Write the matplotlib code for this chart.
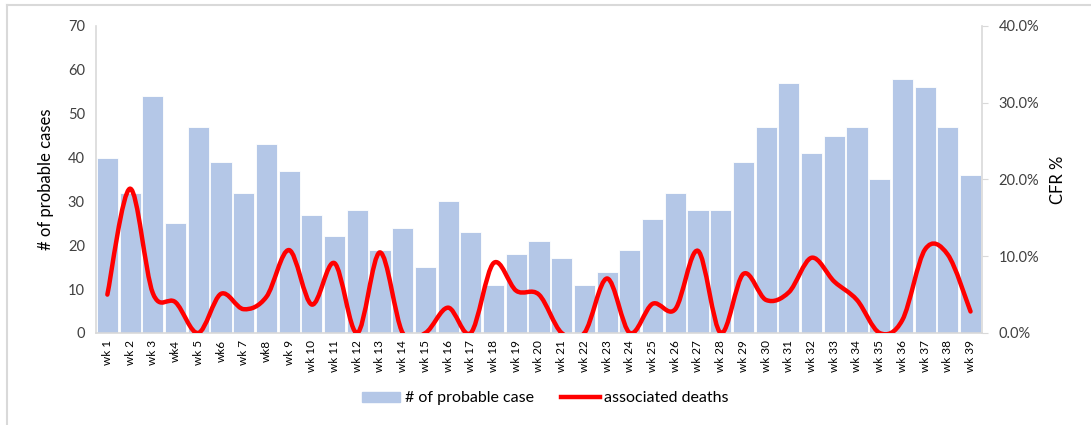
import matplotlib.pyplot as plt
from matplotlib.path import Path
from matplotlib.patches import PathPatch
from matplotlib.lines import Line2D
from matplotlib.ticker import PercentFormatter

plt.rcParams['font.family'] = ['Lato', 'DejaVu Sans']

weeks = ["wk 1", "wk 2", "wk 3", "wk4", "wk 5", "wk6", "wk 7", "wk8", "wk 9", "wk 10",
         "wk 11", "wk 12", "wk 13", "wk 14", "wk 15", "wk 16", "wk 17", "wk 18", "wk 19", "wk 20",
         "wk 21", "wk 22", "wk 23", "wk 24", "wk 25", "wk 26", "wk 27", "wk 28", "wk 29", "wk 30",
         "wk 31", "wk 32", "wk 33", "wk 34", "wk 35", "wk 36", "wk 37", "wk 38", "wk 39"]
cases = [40, 32, 54, 25, 47, 39, 32, 43, 37, 27,
         22, 28, 19, 24, 15, 30, 23, 11, 18, 21,
         17, 11, 14, 19, 26, 32, 28, 28, 39, 47,
         57, 41, 45, 47, 35, 58, 56, 47, 36]
cfr = [5.0, 18.8, 5.2, 4.0, 0.0, 5.1, 3.1, 4.7, 10.8, 3.7,
       9.1, 0.0, 10.5, 0.0, 0.0, 3.3, 0.0, 9.1, 5.5, 5.0,
       0.0, 0.0, 7.1, 0.0, 3.8, 3.1, 10.7, 0.0, 7.7, 4.3,
       5.3, 9.8, 6.7, 4.3, 0.0, 1.7, 10.9, 10.2, 2.8]

bar_color = "#B4C7E7"
grid_gray = "#D9D9D9"
text_col = "#404040"

fig = plt.figure(figsize=(10.91, 4.25), dpi=100)
ax = fig.add_axes([0.088, 0.2165, 0.812, 0.7225])
x = list(range(len(weeks)))
ax.bar(x, cases, width=0.93, color=bar_color, edgecolor="white", linewidth=0.6, zorder=2)
ax.set_xlim(-0.5, len(weeks) - 0.5)
ax.set_ylim(0, 70)
ax.set_yticks(range(0, 71, 10))
ax.set_xticks(x)
ax.set_xticklabels(weeks, rotation=90, fontsize=8.5, color="black")
ax.tick_params(axis="x", length=0, pad=5)
ax.tick_params(axis="y", length=0, labelsize=10.5, labelcolor=text_col, pad=8)
ax.set_ylabel("# of probable cases", fontsize=12, color="black", labelpad=10)
for s in ["top", "right"]:
    ax.spines[s].set_visible(False)
ax.spines["left"].set_color(grid_gray)
ax.spines["bottom"].set_color(grid_gray)
ax.spines["left"].set_linewidth(1.2)
ax.spines["bottom"].set_linewidth(1.2)

ax2 = ax.twinx()
ax2.set_ylim(0, 40)
ax2.set_yticks(range(0, 41, 10))
ax2.yaxis.set_major_formatter(PercentFormatter(decimals=1))
ax2.tick_params(axis="y", length=4, color=grid_gray, labelsize=10.5, labelcolor=text_col, pad=8)
ax2.set_ylabel("CFR %", fontsize=12, color="black", labelpad=8)
for s in ["top", "left", "bottom"]:
    ax2.spines[s].set_visible(False)
ax2.spines["right"].set_color(grid_gray)
ax2.spines["right"].set_linewidth(1.2)

# smoothed line (Catmull-Rom style bezier, like spreadsheet smoothing)
verts = [(x[0], cfr[0])]
codes = [Path.MOVETO]
n = len(x)
t = 1 / 6
for i in range(n - 1):
    p0 = (x[max(i - 1, 0)], cfr[max(i - 1, 0)])
    p1 = (x[i], cfr[i])
    p2 = (x[i + 1], cfr[i + 1])
    p3 = (x[min(i + 2, n - 1)], cfr[min(i + 2, n - 1)])
    c1 = (p1[0] + (p2[0] - p0[0]) * t, p1[1] + (p2[1] - p0[1]) * t)
    c2 = (p2[0] - (p3[0] - p1[0]) * t, p2[1] - (p3[1] - p1[1]) * t)
    verts += [c1, c2, p2]
    codes += [Path.CURVE4] * 3
ax2.add_patch(PathPatch(Path(verts, codes), fill=False, edgecolor="#FF0000",
                        linewidth=3.2, capstyle="round", joinstyle="round", zorder=3))

handles = [plt.Rectangle((0, 0), 1, 1, color=bar_color),
           Line2D([0], [0], color="#FF0000", linewidth=3.2)]
fig.legend(handles, ["# of probable case", "associated deaths"], loc="center",
           bbox_to_anchor=(0.5, 0.063), ncol=2, frameon=False, fontsize=11.5,
           handlelength=2.4, handleheight=0.6, handletextpad=0.3, columnspacing=1.7)

# outer border (left and top edges visible in the crop)
fig.add_artist(Line2D([0.0068, 0.0068], [0, 0.988], transform=fig.transFigure,
                      color=grid_gray, linewidth=1.5))
fig.add_artist(Line2D([0.0068, 0.999], [0.988, 0.988], transform=fig.transFigure,
                      color=grid_gray, linewidth=1.5))

fig.savefig("out.png", dpi=100)
